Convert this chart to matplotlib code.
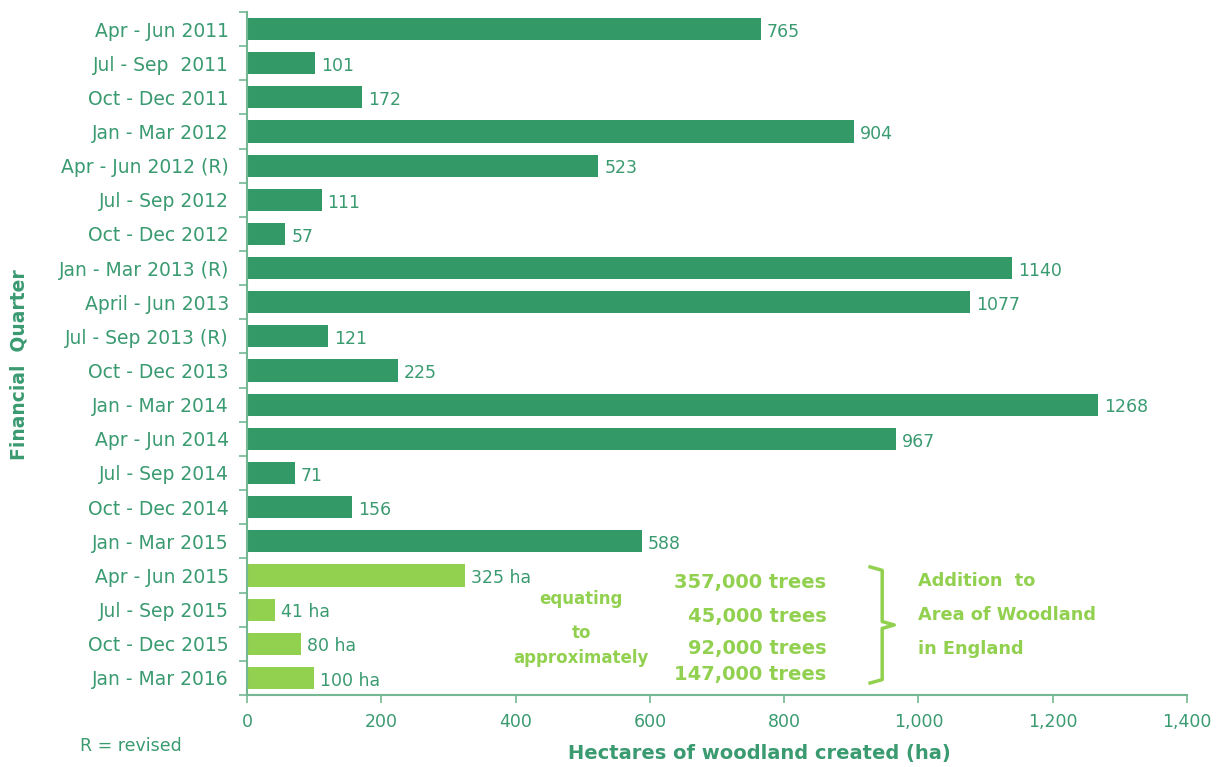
import matplotlib
matplotlib.use("Agg")
import matplotlib.pyplot as plt
from matplotlib.ticker import FuncFormatter, FixedLocator

quarters = [
    "Apr - Jun 2011", "Jul - Sep  2011", "Oct - Dec 2011", "Jan - Mar 2012",
    "Apr - Jun 2012 (R)", "Jul - Sep 2012", "Oct - Dec 2012", "Jan - Mar 2013 (R)",
    "April - Jun 2013", "Jul - Sep 2013 (R)", "Oct - Dec 2013", "Jan - Mar 2014",
    "Apr - Jun 2014", "Jul - Sep 2014", "Oct - Dec 2014", "Jan - Mar 2015",
    "Apr - Jun 2015", "Jul - Sep 2015", "Oct - Dec 2015", "Jan - Mar 2016",
]
hectares = [765, 101, 172, 904, 523, 111, 57, 1140, 1077, 121, 225, 1268,
            967, 71, 156, 588, 325, 41, 80, 100]
is_new = [False] * 16 + [True] * 4
trees = ["357,000 trees", "45,000 trees", "92,000 trees", "147,000 trees"]
x_ticks = [0, 200, 400, 600, 800, 1000, 1200, 1400]

DARK = "#339966"
LIGHT = "#92d050"
TEXT = "#3a9a70"
AXIS = "#74b893"

plt.rcParams["font.family"] = ["DejaVu Sans"]

fig = plt.figure(figsize=(12.19, 7.67), dpi=100)
ax = fig.add_axes([0.2026, 0.0939, 0.7712, 0.8905])

ypos = list(range(len(quarters)))
colors = [LIGHT if n else DARK for n in is_new]
ax.barh(ypos, hectares, height=0.65, color=colors, zorder=2)

for y, v, n in zip(ypos, hectares, is_new):
    label = f"{v} ha" if n else f"{v}"
    ax.text(v + 9, y + 0.08, label, va="center", ha="left", fontsize=12.5, color=TEXT)

ax.set_xlim(0, 1400)
ax.set_ylim(len(quarters) - 0.5, -0.5)
ax.xaxis.set_major_locator(FixedLocator(x_ticks))
ax.xaxis.set_major_formatter(FuncFormatter(lambda v, p: f"{int(v):,}"))
ax.set_yticks(ypos)
ax.set_yticklabels(quarters)
ax.set_yticks([i - 0.5 for i in range(len(quarters) + 1)], minor=True)
ax.tick_params(axis="y", which="major", length=0, pad=13, labelsize=13.5, labelcolor=TEXT)
ax.tick_params(axis="y", which="minor", length=6, color=AXIS, width=1.2)
ax.tick_params(axis="x", which="major", length=6, color=AXIS, width=1.2, labelsize=12.5,
               labelcolor=TEXT, pad=7)

for side in ("top", "right"):
    ax.spines[side].set_visible(False)
for side in ("left", "bottom"):
    ax.spines[side].set_color(AXIS)
    ax.spines[side].set_linewidth(1.5)

ax.set_xlabel("Hectares of woodland created (ha)", fontsize=14, fontweight="bold", color=TEXT)
ax.xaxis.set_label_coords(0.545, -0.072)
ax.set_ylabel("Financial  Quarter", fontsize=13.5, fontweight="bold", color=TEXT)
ax.yaxis.set_label_coords(-0.232, 0.483)

fig.text(0.066, 0.027, "R = revised", fontsize=12.5, color=TEXT, ha="left", va="center")

# annotation block for the 2015/16 quarters
for y, txt in zip([16.68, 17.68, 18.42], ["equating", "to", "approximately"]):
    ax.text(498, y, txt, ha="center", va="center", fontsize=12, fontweight="bold", color=LIGHT)
for y, txt in zip([16.2, 17.2, 18.15, 18.9], trees):
    ax.text(863, y, txt, ha="right", va="center", fontsize=14, fontweight="bold", color=LIGHT)
for y, txt in zip([16.15, 17.15, 18.15], ["Addition  to", "Area of Woodland", "in England"]):
    ax.text(999, y, txt, ha="left", va="center", fontsize=12.8, fontweight="bold", color=LIGHT)

bx = [928, 946, 946, 964, 946, 946, 928]
by = [15.75, 15.85, 17.35, 17.45, 17.55, 19.05, 19.15]
ax.plot(bx, by, color=LIGHT, lw=2.5, clip_on=False, solid_joinstyle="round")

fig.savefig("out.png", dpi=100)
